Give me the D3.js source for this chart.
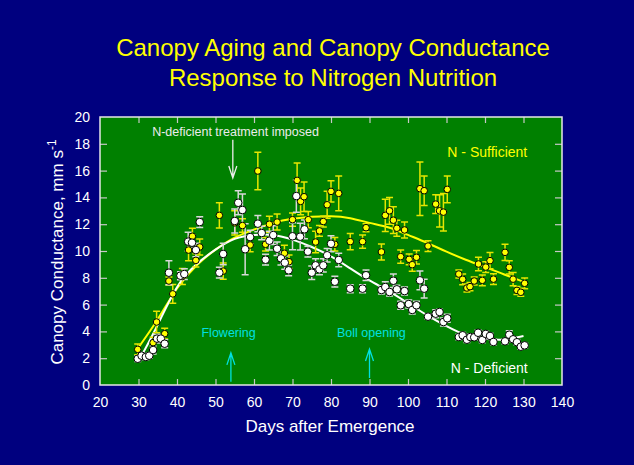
<!DOCTYPE html>
<html>
<head>
<meta charset="utf-8">
<script src="https://cdn.jsdelivr.net/npm/d3@7"></script>
<style>
  html, body { margin: 0; padding: 0; background: #00007f; }
  svg { display: block; font-family: "Liberation Sans", Arial, sans-serif; }
</style>
</head>
<body>
<div id="chart"></div>
<script>
// N-sufficient series: [day, conductance, error]
var sufficient = [
  [29.8,2.66,0.4],[33.8,3.16,0.4],[34.7,4.7,0.8],[36.8,3.83,0.4],[37.9,7.76,0.3],
  [38.9,6.8,0.7],[41.4,8.1,0.6],[43.0,10.07,0.8],[44.0,11.1,0.6],[44.9,9.3,0.5],
  [45.9,10.3,0.6],[51.0,12.66,0.95],[52.0,8.5,0.6],[55.0,12.1,0.9],[57.0,11.9,0.5],
  [59.0,10.45,0.5],[61.0,15.97,1.4],[63.0,10.5,0.5],[64.0,12.0,0.6],[66.0,12.16,0.6],
  [67.9,9.83,0.6],[69.1,9.2,0.5],[70.0,12.34,0.5],[71.2,15.27,1.3],[72.1,13.7,1.0],
  [73.0,14.05,1.1],[74.1,12.34,0.6],[76.0,10.67,0.8],[77.0,11.5,0.4],[78.0,12.2,0.4],
  [79.0,13.45,1.0],[80.0,14.45,0.8],[81.0,10.5,0.5],[82.0,14.3,1.3],[85.0,10.7,0.6],
  [88.2,10.7,0.5],[89.1,11.74,0.3],[93.1,9.93,0.6],[94.1,12.66,1.2],[95.2,13.0,1.0],
  [96.2,12.3,1.0],[97.1,11.7,0.6],[98.1,9.58,0.5],[99.1,11.57,0.6],[100.3,9.38,0.4],
  [101.1,8.98,0.5],[102.2,9.53,0.5],[103.1,14.65,2.0],[104.2,14.5,1.1],[105.2,10.37,0.4],
  [107.2,13.5,0.7],[108.2,13.0,1.2],[109.2,12.9,1.4],[110.2,14.6,1.0],[113.2,8.28,0.3],
  [114.2,7.89,0.4],[115.3,7.24,0.3],[116.1,7.34,0.3],[117.2,7.76,0.3],[118.3,9.03,0.5],
  [119.3,7.81,0.4],[120.2,8.8,0.4],[121.3,9.28,0.6],[122.2,7.9,0.4],[125.2,9.9,0.6],
  [126.3,8.78,0.5],[127.3,7.9,0.5],[128.3,7.06,0.3],[129.3,6.92,0.3],[130.3,7.59,0.4]
];

// N-deficient series: [day, conductance, error]
var deficient = [
  [29.8,1.96,0.2],[30.8,2.19,0.2],[31.9,2.09,0.2],[32.8,2.19,0.2],[33.8,2.61,0.3],
  [34.8,3.46,0.3],[35.8,3.46,0.3],[36.8,3.08,0.3],[37.9,8.38,0.9],[40.9,8.16,0.3],
  [41.9,8.28,0.4],[42.9,10.7,0.7],[43.9,10.62,0.6],[44.9,10.07,0.5],[45.9,12.16,0.4],
  [51.0,8.38,0.4],[52.0,9.78,0.8],[55.0,12.24,0.9],[55.9,13.6,0.9],[57.0,13.06,1.2],
  [57.7,10.13,1.9],[59.0,11.04,0.5],[61.0,12.04,0.6],[62.0,11.34,0.5],[63.0,9.35,0.4],
  [64.0,10.77,0.7],[65.0,11.19,0.7],[66.0,10.17,0.5],[67.0,9.45,0.5],[68.0,9.13,0.5],
  [69.0,8.56,0.4],[70.0,11.1,1.0],[71.0,14.1,1.2],[72.0,11.07,1.0],[73.1,11.62,0.7],
  [74.0,9.95,0.4],[75.0,8.38,0.5],[76.0,8.93,0.5],[77.0,8.63,0.4],[78.0,8.93,0.5],
  [79.0,9.68,0.5],[80.0,10.54,0.6],[81.0,7.71,0.4],[82.0,9.33,0.5],[85.0,7.19,0.3],
  [88.2,7.19,0.3],[89.1,8.19,0.4],[93.1,7.09,0.3],[94.1,7.31,0.4],[95.2,6.94,0.3],
  [96.2,7.78,0.5],[97.1,7.14,0.3],[98.1,5.95,0.3],[99.1,7.01,0.3],[100.2,6.04,0.3],
  [101.1,5.6,0.3],[102.2,5.95,0.3],[103.1,7.81,0.7],[104.2,7.19,0.7],[105.2,5.1,0.2],
  [107.2,5.32,0.3],[108.2,5.45,0.2],[109.2,4.7,0.3],[110.2,4.98,0.3],[113.2,3.58,0.2],
  [114.2,3.71,0.2],[115.3,3.38,0.2],[116.2,3.58,0.2],[117.2,3.56,0.2],[118.2,3.9,0.2],
  [119.3,3.36,0.2],[120.2,3.81,0.2],[121.3,3.66,0.2],[122.2,3.21,0.2],[125.2,3.26,0.2],
  [126.3,3.75,0.3],[127.3,3.41,0.2],[128.3,3.19,0.2],[129.3,2.86,0.2],[130.3,2.96,0.2]
];

// fitted curves
var fitDays = [30,35,40,45,50,55,60,65,70,75,80,85,90,95,100,105,110,115,120,125,130];
var fitSufficient = [2.8,4.9,7.2,8.9,10.1,11.0,11.6,12.1,12.4,12.55,12.6,12.45,12.1,11.75,11.2,10.6,9.95,9.35,8.8,8.25,7.7];
var fitDeficientDays = [31,35,40,45,50,55,60,65,70,75,80,85,90,95,100,105,110,115,120,125,130];
var fitDeficient = [2.3,4.5,7.3,9.0,10.1,10.9,11.2,11.2,10.85,10.3,9.6,8.7,7.8,7.0,6.1,5.2,4.4,3.75,3.45,3.4,3.65];

var xTicks = [20,30,40,50,60,70,80,90,100,110,120,130,140];
var yTicks = [0,2,4,6,8,10,12,14,16,18,20];

var W = 634, H = 465;
var margin = {top: 117, right: 72, bottom: 80, left: 100};
var width = W - margin.left - margin.right,
    height = H - margin.top - margin.bottom;

var svg = d3.select("#chart").append("svg")
    .attr("width", W)
    .attr("height", H);

svg.append("rect").attr("width", W).attr("height", H).attr("fill", "#00007f");

// title
svg.append("text")
  .attr("x", 333).attr("y", 56)
  .attr("text-anchor", "middle")
  .attr("font-size", 24)
  .attr("fill", "#ffff00")
  .text("Canopy Aging and Canopy Conductance");
svg.append("text")
  .attr("x", 333).attr("y", 86)
  .attr("text-anchor", "middle")
  .attr("font-size", 24)
  .attr("fill", "#ffff00")
  .text("Response to Nitrogen Nutrition");

var g = svg.append("g")
  .attr("transform", `translate(${margin.left},${margin.top})`);

var x = d3.scaleLinear().domain([20,140]).range([0,width]);
var y = d3.scaleLinear().domain([0,20]).range([height,0]);

g.append("rect")
  .attr("width", width).attr("height", height)
  .attr("fill", "#008000");

function styleAxis(sel){
  sel.select(".domain").remove();
  sel.selectAll(".tick line").attr("stroke", "#c8c8c8").attr("stroke-width", 1.2);
  sel.selectAll(".tick text").attr("fill", "#ffffff").attr("font-size", 14)
    .attr("font-family", "Liberation Sans, Arial, sans-serif");
}

g.append("g")
  .attr("transform", `translate(0,${height})`)
  .call(d3.axisBottom(x).tickValues(xTicks).tickSizeInner(-6).tickSizeOuter(0).tickPadding(12))
  .call(styleAxis);

g.append("g")
  .call(d3.axisTop(x).tickValues(xTicks).tickSizeInner(-6).tickSizeOuter(0).tickFormat(""))
  .call(styleAxis);

g.append("g")
  .call(d3.axisLeft(y).tickValues(yTicks).tickSizeInner(-7).tickSizeOuter(0).tickPadding(10))
  .call(styleAxis);

g.append("g")
  .attr("transform", `translate(${width},0)`)
  .call(d3.axisRight(y).tickValues(yTicks).tickSizeInner(-7).tickSizeOuter(0).tickFormat(""))
  .call(styleAxis);

// remove end ticks on the frame edges
g.selectAll(".tick").filter(d => d === 20 || d === 140 || d === 0).select("line").remove();

g.append("rect")
  .attr("width", width).attr("height", height)
  .attr("fill", "none")
  .attr("stroke", "#e6e6e6")
  .attr("stroke-width", 1.5);

// axis titles
svg.append("text")
  .attr("x", 330).attr("y", 432)
  .attr("text-anchor", "middle")
  .attr("font-size", 17)
  .attr("fill", "#ffffff")
  .text("Days after Emergence");

var yl = svg.append("text")
  .attr("transform", "translate(63,252) rotate(-90)")
  .attr("text-anchor", "middle")
  .attr("font-size", 17)
  .attr("fill", "#ffffff");
yl.append("tspan").text("Canopy Conductance, mm s");
yl.append("tspan").attr("dy", -7).attr("font-size", 12).text("-1");

// fitted curves
var line = d3.line().x(d => x(d[0])).y(d => y(d[1])).curve(d3.curveNatural);

g.append("path")
  .datum(fitDays.map((d,i) => [d, fitSufficient[i]]))
  .attr("d", line)
  .attr("fill", "none")
  .attr("stroke", "#ffff00")
  .attr("stroke-width", 2);

g.append("path")
  .datum(fitDeficientDays.map((d,i) => [d, fitDeficient[i]]))
  .attr("d", line)
  .attr("fill", "none")
  .attr("stroke", "#ffffff")
  .attr("stroke-width", 2);

// error bars
function errorBars(data, color){
  var eb = g.append("g").attr("stroke", color).attr("stroke-width", 1.5).attr("fill", "none");
  eb.selectAll("path")
    .data(data)
    .enter().append("path")
    .attr("d", d => {
      var cx = x(d[0]), y0 = y(d[1] - d[2]), y1 = y(d[1] + d[2]);
      return `M${cx},${y0}V${y1}M${cx-3.5},${y0}h7M${cx-3.5},${y1}h7`;
    });
}
errorBars(sufficient, "#e6e600");
errorBars(deficient, "#d8d8d8");

g.append("g").selectAll("circle")
  .data(sufficient)
  .enter().append("circle")
  .attr("cx", d => x(d[0]))
  .attr("cy", d => y(d[1]))
  .attr("r", 3.3)
  .attr("fill", "#ffff00")
  .attr("stroke", "#000000")
  .attr("stroke-width", 1);

g.append("g").selectAll("circle")
  .data(deficient)
  .enter().append("circle")
  .attr("cx", d => x(d[0]))
  .attr("cy", d => y(d[1]))
  .attr("r", 3.8)
  .attr("fill", "#ffffff")
  .attr("stroke", "#000000")
  .attr("stroke-width", 1);

// annotations
function arrow(day, from, to, color){
  var cx = x(day), y0 = y(from), y1 = y(to);
  var dir = y1 > y0 ? -1 : 1;
  g.append("path")
    .attr("d", `M${cx},${y0}V${y1}M${cx-4},${y1 + dir*12}L${cx},${y1}L${cx+4},${y1 + dir*12}`)
    .attr("fill", "none")
    .attr("stroke", color)
    .attr("stroke-width", 1.3);
}

g.append("text")
  .attr("x", x(55.2)).attr("y", y(18.6))
  .attr("text-anchor", "middle")
  .attr("font-size", 12.5)
  .attr("fill", "#ececec")
  .text("N-deficient treatment imposed");
arrow(54.5, 18.3, 15.45, "#ececec");

g.append("text")
  .attr("x", x(120.6)).attr("y", y(17.0))
  .attr("text-anchor", "middle")
  .attr("font-size", 14)
  .attr("fill", "#ffff00")
  .text("N - Sufficient");

g.append("text")
  .attr("x", x(121.1)).attr("y", y(0.92))
  .attr("text-anchor", "middle")
  .attr("font-size", 14)
  .attr("fill", "#ffffff")
  .text("N - Deficient");

g.append("text")
  .attr("x", x(53.4)).attr("y", y(3.6))
  .attr("text-anchor", "middle")
  .attr("font-size", 12.5)
  .attr("fill", "#00e0e0")
  .text("Flowering");
arrow(54, 0.25, 2.4, "#00e0e0");

g.append("text")
  .attr("x", x(90.5)).attr("y", y(3.6))
  .attr("text-anchor", "middle")
  .attr("font-size", 12.5)
  .attr("fill", "#00e0e0")
  .text("Boll opening");
arrow(90, 0.52, 2.69, "#00e0e0");
</script>
</body>
</html>
